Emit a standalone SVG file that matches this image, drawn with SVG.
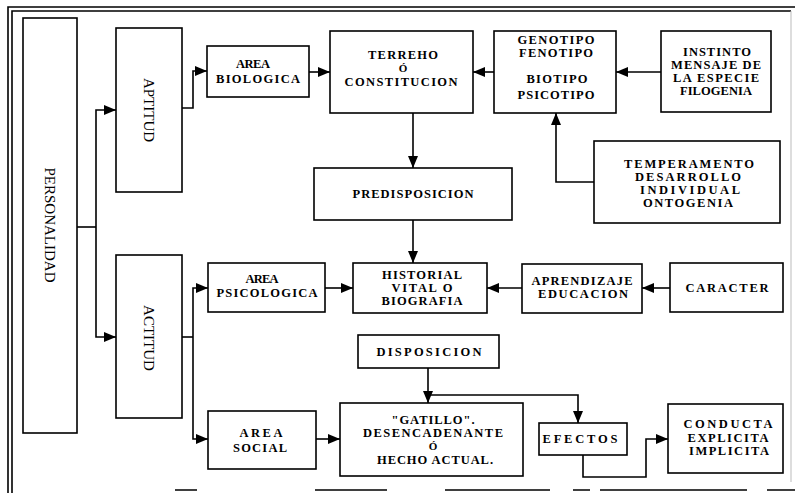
<svg xmlns="http://www.w3.org/2000/svg" width="795" height="493" viewBox="0 0 795 493">
<style>
.frame{fill:none;stroke:#000;stroke-width:1.6}
.box{fill:#fff;stroke:#000;stroke-width:1.6}
.t{font-family:"Liberation Serif","Times New Roman",serif;font-weight:bold;font-size:12.5px;fill:#000;text-anchor:middle}
.o{font-size:11px}
.r{font-family:"Liberation Serif","Times New Roman",serif;font-size:15px;fill:#000;text-anchor:middle}
.c{fill:none;stroke:#000;stroke-width:1.6}
</style>
<defs>
<marker id="ah" markerUnits="userSpaceOnUse" markerWidth="12" markerHeight="10" refX="12" refY="5" orient="auto">
<path d="M0,0 L12,5 L0,10 z" fill="#000"/>
</marker>
</defs>
<rect width="795" height="493" fill="#fff"/>
<g id="frame">
<path class="frame" d="M8,493 V7 H795"/>
<path class="frame" d="M12,493 V11 H791"/>
<path d="M791,11 V482" stroke="#bbb" stroke-width="1" fill="none"/>
<path d="M175,490 H197 M315,490 H387 M445,490 H550 M573,490 H590 M600,490 H747 M767,490 H795" stroke="#000" stroke-width="1.5" fill="none"/>
</g>
<g id="connectors">
<path class="c" d="M77,227 H96"/>
<path class="c" d="M96,227 V110 H116" marker-end="url(#ah)"/>
<path class="c" d="M96,227 V337 H116" marker-end="url(#ah)"/>
<path class="c" d="M182,108 H193 V71 H207" marker-end="url(#ah)"/>
<path class="c" d="M309,72 H330" marker-end="url(#ah)"/>
<path class="c" d="M494,72 H473" marker-end="url(#ah)"/>
<path class="c" d="M661,72 H616" marker-end="url(#ah)"/>
<path class="c" d="M594,182 H556 V113" marker-end="url(#ah)"/>
<path class="c" d="M413,113 V168" marker-end="url(#ah)"/>
<path class="c" d="M413,220 V263" marker-end="url(#ah)"/>
<path class="c" d="M182,337 H193"/>
<path class="c" d="M193,337 V288 H208" marker-end="url(#ah)"/>
<path class="c" d="M193,337 V439 H208" marker-end="url(#ah)"/>
<path class="c" d="M325,288 H353" marker-end="url(#ah)"/>
<path class="c" d="M522,288 H487" marker-end="url(#ah)"/>
<path class="c" d="M670,288 H642" marker-end="url(#ah)"/>
<path class="c" d="M428,368 V403" marker-end="url(#ah)"/>
<path class="c" d="M428,395 H578 V423" marker-end="url(#ah)"/>
<path class="c" d="M316,439 H340" marker-end="url(#ah)"/>
<path class="c" d="M583,455 V477 H646 V439 H668" marker-end="url(#ah)"/>
</g>
<g id="personalidad">
<rect class="box" x="23" y="18" width="54" height="415"/>
<text class="r" transform="translate(45,225) rotate(90)">PERSONALIDAD</text>
</g>
<g id="aptitud">
<rect class="box" x="116" y="28" width="66" height="164"/>
<text class="r" transform="translate(144,110) rotate(90)">APTITUD</text>
</g>
<g id="actitud">
<rect class="box" x="116" y="255" width="66" height="163"/>
<text class="r" transform="translate(144,338) rotate(90)">ACTITUD</text>
</g>
<g id="area-biologica">
<rect class="box" x="207" y="46" width="102" height="51"/>
<text class="t" x="253" y="68" textLength="34">AREA</text>
<text class="t" x="258" y="83" textLength="84">BIOLOGICA</text>
</g>
<g id="terreno">
<rect class="box" x="330" y="31" width="143" height="82"/>
<text class="t" x="403" y="59" textLength="70">TERREHO</text>
<text class="t o" x="403" y="72">Ó</text>
<text class="t" x="401" y="86" textLength="113">CONSTITUCION</text>
</g>
<g id="genotipo">
<rect class="box" x="494" y="31" width="122" height="82"/>
<text class="t" x="556" y="44" textLength="77">GENOTIPO</text>
<text class="t" x="556" y="57" textLength="74">FENOTIPO</text>
<text class="t" x="557" y="83" textLength="61">BIOTIPO</text>
<text class="t" x="556" y="99" textLength="77">PSICOTIPO</text>
</g>
<g id="instinto">
<rect class="box" x="661" y="31" width="110" height="81"/>
<text class="t" x="717" y="56" textLength="68">INSTINTO</text>
<text class="t" x="716" y="69" textLength="90">MENSAJE DE</text>
<text class="t" x="716" y="82" textLength="86">LA ESPECIE</text>
<text class="t" x="716" y="95" textLength="72">FILOGENIA</text>
</g>
<g id="temperamento">
<rect class="box" x="594" y="141" width="186" height="82"/>
<text class="t" x="689" y="168" textLength="130">TEMPERAMENTO</text>
<text class="t" x="688" y="181" textLength="106">DESARROLLO</text>
<text class="t" x="690" y="194" textLength="100">INDIVIDUAL</text>
<text class="t" x="688" y="207" textLength="90">ONTOGENIA</text>
</g>
<g id="predisposicion">
<rect class="box" x="314" y="168" width="198" height="52"/>
<text class="t" x="413" y="198" textLength="121">PREDISPOSICION</text>
</g>
<g id="area-psicologica">
<rect class="box" x="208" y="263" width="117" height="49"/>
<text class="t" x="262" y="283" textLength="33">AREA</text>
<text class="t" x="267" y="297" textLength="101">PSICOLOGICA</text>
</g>
<g id="historial">
<rect class="box" x="353" y="263" width="134" height="50"/>
<text class="t" x="422" y="279" textLength="80">HISTORIAL</text>
<text class="t" x="422" y="292" textLength="61">VITAL O</text>
<text class="t" x="422" y="305" textLength="81">BIOGRAFIA</text>
</g>
<g id="aprendizaje">
<rect class="box" x="522" y="264" width="120" height="49"/>
<text class="t" x="582" y="285" textLength="101">APRENDIZAJE</text>
<text class="t" x="583" y="298" textLength="90">EDUCACION</text>
</g>
<g id="caracter">
<rect class="box" x="670" y="263" width="113" height="49"/>
<text class="t" x="727" y="292" textLength="83">CARACTER</text>
</g>
<g id="disposicion">
<rect class="box" x="358" y="335" width="141" height="33"/>
<text class="t" x="429" y="356" textLength="105">DISPOSICION</text>
</g>
<g id="area-social">
<rect class="box" x="208" y="411" width="108" height="58"/>
<text class="t" x="261" y="437" textLength="43">AREA</text>
<text class="t" x="260" y="452" textLength="54">SOCIAL</text>
</g>
<g id="gatillo">
<rect class="box" x="340" y="403" width="183" height="73"/>
<text class="t" x="433" y="424" textLength="83">"GATILLO".</text>
<text class="t" x="433" y="437" textLength="140">DESENCADENANTE</text>
<text class="t o" x="433" y="450">Ó</text>
<text class="t" x="435" y="464" textLength="116">HECHO ACTUAL.</text>
</g>
<g id="efectos">
<rect class="box" x="539" y="423" width="88" height="32"/>
<text class="t" x="580" y="443" textLength="75">EFECTOS</text>
</g>
<g id="conducta">
<rect class="box" x="668" y="404" width="115" height="69"/>
<text class="t" x="728" y="428" textLength="89">CONDUCTA</text>
<text class="t" x="728" y="442" textLength="81">EXPLICITA</text>
<text class="t" x="729" y="455" textLength="80">IMPLICITA</text>
</g>
</svg>
